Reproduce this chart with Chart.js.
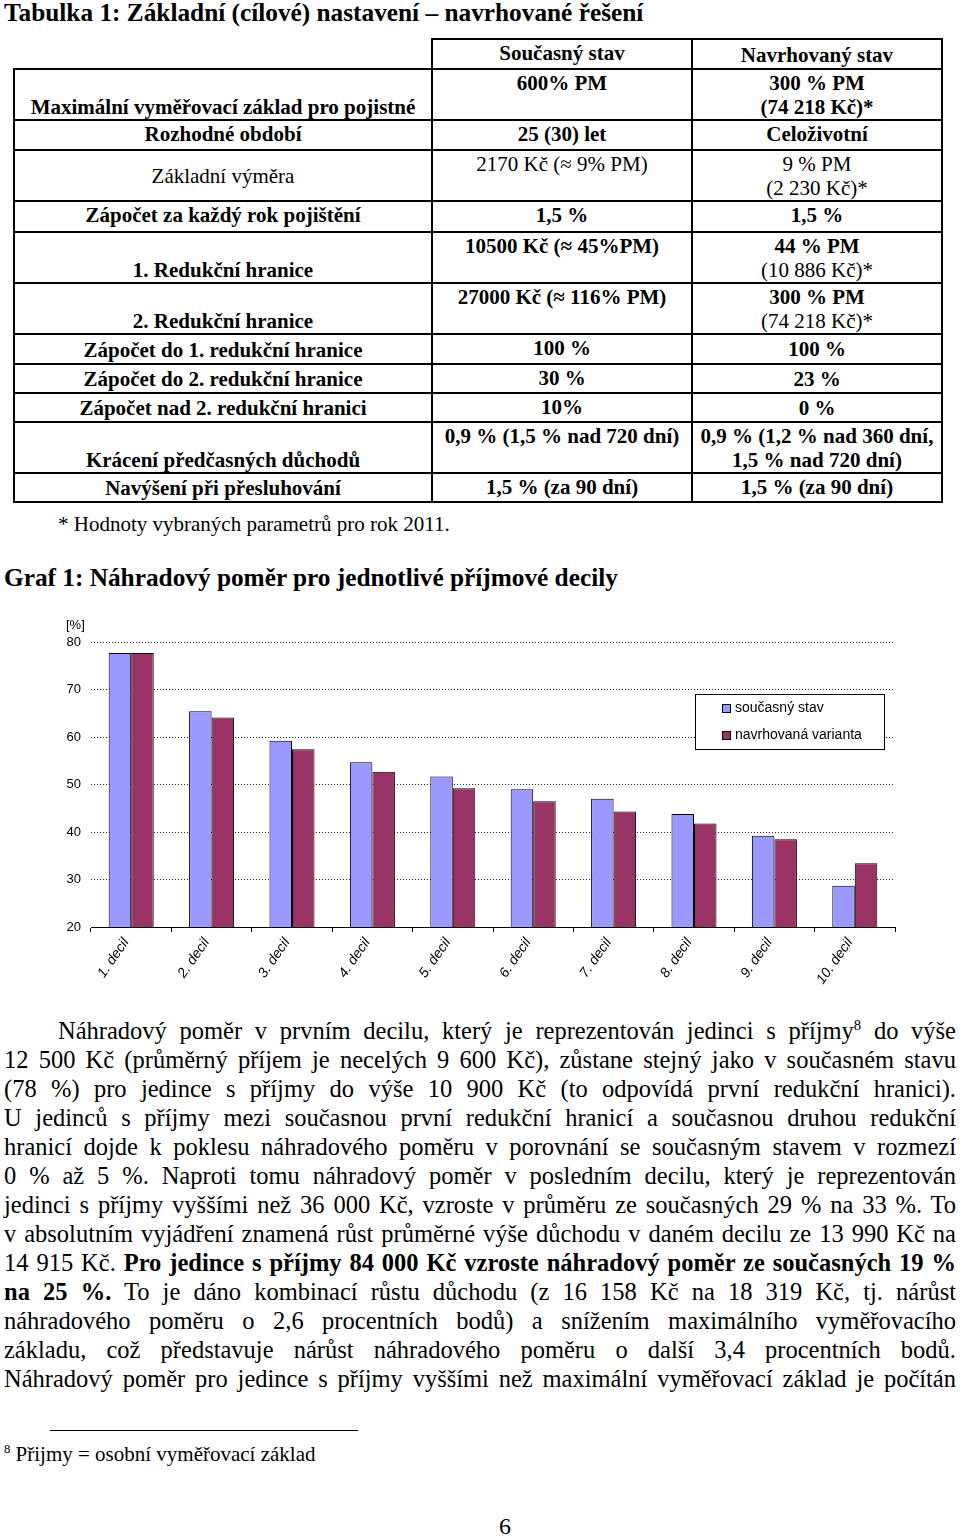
<!DOCTYPE html>
<html lang="cs">
<head>
<meta charset="utf-8">
<script src="https://cdn.jsdelivr.net/npm/chart.js@4.4.1/dist/chart.umd.min.js"></script>
<style>
  body { margin: 0; background: #fff; }
  #page { position: relative; width: 960px; height: 1537px; font-family: "Liberation Serif", "Times New Roman", serif; color: #000; overflow: hidden; }
  .abs { position: absolute; white-space: nowrap; }
  h1 { position: absolute; margin: 0; font-size: 25.3px; line-height: 26px; font-weight: bold; white-space: nowrap; }
  table.tab { position: absolute; left: 13px; top: 38px; border-collapse: collapse; font-size: 21px; line-height: 24px; }
  table.tab td { border: 2px solid #000; padding: 1px 0 0 0; text-align: center; vertical-align: top; font-weight: bold; white-space: nowrap; }
  table.tab td.n { font-weight: normal; }
  table.tab td.mid { vertical-align: middle; padding: 0; }
  .ln { position: absolute; left: 4px; width: 952px; font-size: 24.5px; line-height: 29px; text-align: justify; text-align-last: justify; white-space: normal; }
  sup { font-size: 0.6em; line-height: 0; }
  #chartBox { position: absolute; left: 0; top: 600px; }
</style>
</head>
<body>
<div id="page">
  <h1 style="left:4px; top:-1px;">Tabulka 1: Základní (cílové) nastavení – navrhované řešení</h1>

  <table class="tab">
    <colgroup><col style="width:418px"><col style="width:260px"><col style="width:250px"></colgroup>
    <tr style="height:30px">
      <td style="border-top:hidden; border-left:hidden;"></td>
      <td>Současný stav</td>
      <td style="padding-top:3px">Navrhovaný stav</td>
    </tr>
    <tr style="height:51px">
      <td><br>Maximální vyměřovací základ pro pojistné</td>
      <td>600% PM</td>
      <td>300 % PM<br>(74 218 Kč)*</td>
    </tr>
    <tr style="height:30px">
      <td>Rozhodné období</td>
      <td>25 (30) let</td>
      <td>Celoživotní</td>
    </tr>
    <tr style="height:50px">
      <td class="n mid">Základní výměra</td>
      <td class="n">2170 Kč (≈ 9% PM)</td>
      <td class="n">9 % PM<br>(2 230 Kč)*</td>
    </tr>
    <tr style="height:31px">
      <td>Zápočet za každý rok pojištění</td>
      <td>1,5 %</td>
      <td>1,5 %</td>
    </tr>
    <tr style="height:51px">
      <td><br>1. Redukční hranice</td>
      <td>10500 Kč (≈ 45%PM)</td>
      <td>44 % PM<br><span style="font-weight:normal">(10 886 Kč)*</span></td>
    </tr>
    <tr style="height:51px">
      <td><br>2. Redukční hranice</td>
      <td>27000 Kč (≈ 116% PM)</td>
      <td>300 % PM<br><span style="font-weight:normal">(74 218 Kč)*</span></td>
    </tr>
    <tr style="height:30px">
      <td style="padding-top:3px">Zápočet do 1. redukční hranice</td>
      <td>100 %</td>
      <td style="padding-top:2px">100 %</td>
    </tr>
    <tr style="height:29px">
      <td style="padding-top:2px">Zápočet do 2. redukční hranice</td>
      <td>30 %</td>
      <td style="padding-top:2px">23 %</td>
    </tr>
    <tr style="height:29px">
      <td style="padding-top:2px">Zápočet nad 2. redukční hranici</td>
      <td>10%</td>
      <td style="padding-top:2px">0 %</td>
    </tr>
    <tr style="height:50px">
      <td><br>Krácení předčasných důchodů</td>
      <td>0,9 % (1,5 % nad 720 dní)</td>
      <td>0,9 % (1,2 % nad 360 dní,<br>1,5 % nad 720 dní)</td>
    </tr>
    <tr style="height:29px">
      <td style="padding-top:2px">Navýšení při přesluhování</td>
      <td>1,5 % (za 90 dní)</td>
      <td>1,5 % (za 90 dní)</td>
    </tr>
  </table>

  <div class="abs" style="left:58px; top:512px; font-size:21px; line-height:24px;">* Hodnoty vybraných parametrů pro rok 2011.</div>

  <h1 style="left:4px; top:564px;">Graf 1: Náhradový poměr pro jednotlivé příjmové decily</h1>

  <div id="chartBox"><canvas id="barChart" width="920" height="400"></canvas></div>

  <div class="ln" style="top:1016px; left:58px; width:898px;">Náhradový poměr v prvním decilu, který je reprezentován jedinci s příjmy<sup>8</sup> do výše</div>
  <div class="ln" style="top:1045px;">12 500 Kč (průměrný příjem je necelých 9 600 Kč), zůstane stejný jako v současném stavu</div>
  <div class="ln" style="top:1074px;">(78 %) pro jedince s příjmy do výše 10 900 Kč (to odpovídá první redukční hranici).</div>
  <div class="ln" style="top:1103px;">U jedinců s příjmy mezi současnou první redukční hranicí a současnou druhou redukční</div>
  <div class="ln" style="top:1132px;">hranicí dojde k poklesu náhradového poměru v porovnání se současným stavem v rozmezí</div>
  <div class="ln" style="top:1161px;">0 % až 5 %. Naproti tomu náhradový poměr v posledním decilu, který je reprezentován</div>
  <div class="ln" style="top:1190px;">jedinci s příjmy vyššími než 36 000 Kč, vzroste v průměru ze současných 29 % na 33 %. To</div>
  <div class="ln" style="top:1219px;">v absolutním vyjádření znamená růst průměrné výše důchodu v daném decilu ze 13 990 Kč na</div>
  <div class="ln" style="top:1248px;">14 915 Kč. <b>Pro jedince s příjmy 84 000 Kč vzroste náhradový poměr ze současných 19 %</b></div>
  <div class="ln" style="top:1277px;"><b>na 25 %.</b> To je dáno kombinací růstu důchodu (z 16 158 Kč na 18 319 Kč, tj. nárůst</div>
  <div class="ln" style="top:1306px;">náhradového poměru o 2,6 procentních bodů) a snížením maximálního vyměřovacího</div>
  <div class="ln" style="top:1335px;">základu, což představuje nárůst náhradového poměru o další 3,4 procentních bodů.</div>
  <div class="ln" style="top:1364px;">Náhradový poměr pro jedince s příjmy vyššími než maximální vyměřovací základ je počítán</div>

  <div class="abs" style="left:50px; top:1430px; width:308px; height:1px; background:#000;"></div>
  <div class="abs" style="left:4px; top:1442px; font-size:21px; line-height:24px;"><sup>8</sup> Přijmy = osobní vyměřovací základ</div>
  <div class="abs" style="left:499px; top:1513px; font-size:24px; line-height:26px;">6</div>
</div>

<script>
// data grafu
const decily = ['1. decil', '2. decil', '3. decil', '4. decil', '5. decil', '6. decil', '7. decil', '8. decil', '9. decil', '10. decil'];
const soucasnyStav = [77.7, 65.4, 59.2, 54.7, 51.7, 49.0, 47.0, 43.8, 39.2, 28.7];
const navrhovanaVarianta = [77.7, 64.1, 57.4, 52.7, 49.2, 46.5, 44.3, 41.8, 38.5, 33.4];
const yTicks = [20, 30, 40, 50, 60, 70, 80];
const nazvySerii = ['současný stav', 'navrhovaná varianta'];
const barvy = ['#9999FF', '#993366'];

// legenda uvnitr grafu + jednotka nad osou
const legendaPlugin = {
  id: 'legendaUvnitr',
  afterDraw(chart) {
    const ctx = chart.ctx;
    const area = chart.chartArea;
    ctx.save();
    ctx.font = '13px "Liberation Sans", Arial, sans-serif';
    ctx.fillStyle = '#000';
    ctx.textBaseline = 'middle';
    ctx.textAlign = 'left';
    ctx.fillText('[%]', 66, 25);

    const bx = area.right - 200, by = area.top + 52, bw = 189, bh = 55;
    ctx.fillStyle = '#fff';
    ctx.fillRect(bx, by, bw, bh);
    ctx.strokeStyle = '#000';
    ctx.lineWidth = 1;
    ctx.strokeRect(bx + 0.5, by + 0.5, bw, bh);

    ctx.font = '14px "Liberation Sans", Arial, sans-serif';
    chart.data.datasets.forEach((ds, i) => {
      const y = by + 14 + i * 27;
      ctx.fillStyle = ds.backgroundColor;
      ctx.fillRect(bx + 27, y - 4, 8, 8);
      ctx.strokeStyle = '#000';
      ctx.strokeRect(bx + 27.5, y - 3.5, 8, 8);
      ctx.fillStyle = '#000';
      ctx.fillText(ds.label, bx + 40, y);
    });
    ctx.restore();
  }
};

const barChart = document.getElementById('barChart').getContext('2d');

const myBarChart = new Chart(barChart, {
  type: 'bar',
  data: {
    labels: decily,
    datasets: [{
      label: nazvySerii[0],
      data: soucasnyStav,
      backgroundColor: barvy[0],
      borderColor: '#000',
      borderWidth: 1,
      categoryPercentage: 0.56,
      barPercentage: 1.0
    }, {
      label: nazvySerii[1],
      data: navrhovanaVarianta,
      backgroundColor: barvy[1],
      borderColor: '#000',
      borderWidth: 1,
      categoryPercentage: 0.56,
      barPercentage: 1.0
    }]
  },
  options: {
    responsive: false,
    animation: false,
    devicePixelRatio: 1,
    layout: { padding: { top: 42, right: 25, left: 0, bottom: 0 } },
    plugins: {
      legend: { display: false },
      tooltip: { enabled: false }
    },
    scales: {
      x: {
        grid: { offset: true, drawOnChartArea: false, drawTicks: true, tickLength: 5, color: '#000' },
        border: { display: true, color: '#000', width: 1 },
        ticks: {
          minRotation: 55,
          maxRotation: 55,
          padding: 3,
          labelOffset: -5,
          color: '#000',
          font: { family: '"Liberation Sans", Arial, sans-serif', size: 14, style: 'italic' }
        },
        afterFit: (scale) => { scale.height = 73; }
      },
      y: {
        min: yTicks[0],
        max: yTicks[yTicks.length - 1],
        afterBuildTicks: (scale) => { scale.ticks = yTicks.map(v => ({ value: v })); },
        grid: { drawTicks: false, color: '#223', lineWidth: 1 },
        border: { display: false, dash: [1, 2] },
        ticks: {
          padding: 10,
          color: '#000',
          font: { family: '"Liberation Sans", Arial, sans-serif', size: 13 }
        },
        afterFit: (scale) => { scale.width = 91; }
      }
    }
  },
  plugins: [legendaPlugin]
});
</script>
</body>
</html>
